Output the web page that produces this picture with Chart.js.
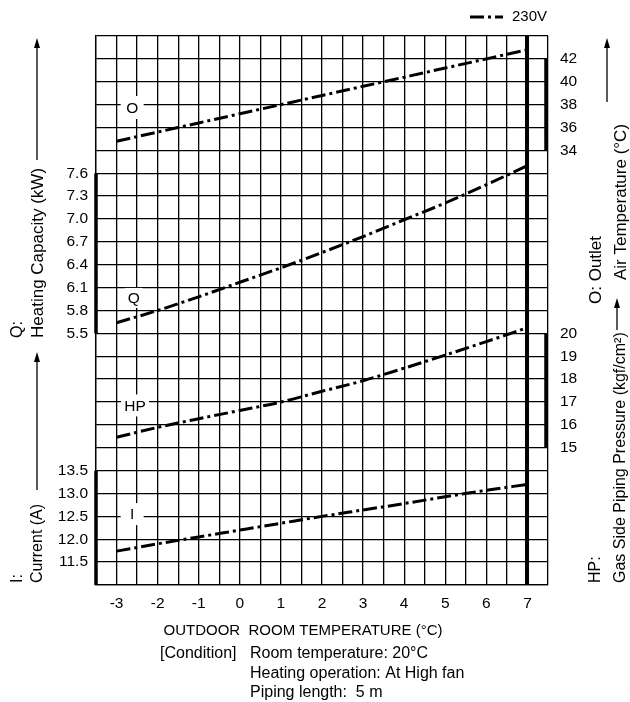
<!DOCTYPE html>
<html>
<head>
<meta charset="utf-8">
<script src="https://cdn.jsdelivr.net/npm/chart.js@4.4.0/dist/chart.umd.min.js"></script>
<style>
  html, body { margin: 0; padding: 0; background: #fff; }
  #wrap { width: 630px; height: 702px; position: relative; }
</style>
</head>
<body>
<div id="wrap"><canvas id="chart" width="630" height="702"></canvas></div>
<script>
// outdoor temperature (deg C)
var xTemps = [-3, -2, -1, 0, 1, 2, 3, 4, 5, 6, 7];
// O: outlet air temperature (deg C)
var outletTemp = [34.8, 35.6, 36.4, 37.2, 38.0, 38.8, 39.6, 40.4, 41.2, 42.0, 42.8];
// Q: heating capacity (kW)
var heatCap = [5.64, 5.80, 5.98, 6.17, 6.36, 6.56, 6.77, 6.99, 7.21, 7.45, 7.70];
// HP: gas side piping pressure (kgf/cm2)
var pressure = [15.46, 15.89, 16.27, 16.63, 17.0, 17.47, 17.93, 18.48, 19.05, 19.64, 20.25];
// I: current (A)
var current = [11.74, 11.90, 12.05, 12.20, 12.35, 12.50, 12.64, 12.78, 12.93, 13.07, 13.20];

// tick labels, each list starts at a grid row (row 0 = bottom line)
var qTicks = ['5.5', '5.8', '6.1', '6.4', '6.7', '7.0', '7.3', '7.6'];   // rows 11..18
var iTicks = ['11.5', '12.0', '12.5', '13.0', '13.5'];                  // rows 1..5
var oTicks = ['34', '36', '38', '40', '42'];                            // rows 19..23
var hpTicks = ['15', '16', '17', '18', '19', '20'];                     // rows 6..11

var FONT = '"Liberation Sans", Arial, Helvetica, sans-serif';
var DASH = [14, 4, 3, 4];

function pts(vals) {
  return xTemps.map(function (x, i) { return { x: x, y: vals[i] }; });
}

function series(label, vals, axis) {
  return {
    label: label,
    data: pts(vals),
    yAxisID: axis,
    borderColor: '#000',
    borderWidth: 3,
    borderDash: DASH,
    pointRadius: 0,
    fill: false,
    cubicInterpolationMode: 'monotone'
  };
}

function leftLabel(v) {
  if (v >= 11 && v <= 18) return qTicks[v - 11];
  if (v >= 1 && v <= 5) return iTicks[v - 1];
  return '';
}
function rightLabel(v) {
  if (v >= 19 && v <= 23) return oTicks[v - 19];
  if (v >= 6 && v <= 11) return hpTicks[v - 6];
  return '';
}

function vText(ctx, txt, x, y, size) {
  // rotated text, reading bottom to top, starting at y
  ctx.save();
  ctx.font = size + 'px ' + FONT;
  ctx.translate(x, y);
  ctx.rotate(-Math.PI / 2);
  ctx.textAlign = 'left';
  ctx.textBaseline = 'middle';
  ctx.fillText(txt, 0, 0);
  ctx.restore();
}
function upArrow(ctx, x, y0, y1) {
  ctx.beginPath();
  ctx.moveTo(x, y0);
  ctx.lineTo(x, y1 + 8);
  ctx.lineWidth = 1.3;
  ctx.stroke();
  ctx.beginPath();
  ctx.moveTo(x, y1);
  ctx.lineTo(x - 3, y1 + 10);
  ctx.lineTo(x + 3, y1 + 10);
  ctx.closePath();
  ctx.fill();
}

var overlay = {
  id: 'overlay',
  beforeDatasetsDraw: function (chart) {
    var ctx = chart.ctx, s = chart.scales;
    var marks = [
      { t: 'O', x: -2.62, ax: 'yO', y: 37.75, w: 23, h: 23 },
      { t: 'Q', x: -2.58, ax: 'yQ', y: 5.965, w: 18, h: 20 },
      { t: 'HP', x: -2.55, ax: 'yHP', y: 16.85, w: 28, h: 22 },
      { t: 'I', x: -2.62, ax: 'yI', y: 12.55, w: 23, h: 22 }
    ];
    ctx.save();
    ctx.font = '15.5px ' + FONT;
    ctx.textAlign = 'center';
    ctx.textBaseline = 'middle';
    marks.forEach(function (m) {
      var px = s.x.getPixelForValue(m.x), py = s[m.ax].getPixelForValue(m.y);
      ctx.fillStyle = '#fff';
      ctx.fillRect(px - m.w / 2, py - m.h / 2, m.w, m.h);
      ctx.fillStyle = '#000';
      ctx.fillText(m.t, px, py + 1);
    });
    ctx.restore();
  },
  afterDraw: function (chart) {
    var ctx = chart.ctx, s = chart.scales, a = chart.chartArea;
    ctx.save();
    ctx.strokeStyle = '#000';
    ctx.fillStyle = '#000';
    // bold range bars on the side axes
    ctx.lineWidth = 3.5;
    ctx.beginPath();
    ctx.moveTo(a.left, s.yQ.getPixelForValue(5.5));
    ctx.lineTo(a.left, s.yQ.getPixelForValue(7.6));
    ctx.moveTo(a.left, s.yI.getPixelForValue(13.5));
    ctx.lineTo(a.left, a.bottom);
    ctx.moveTo(a.right - 2, s.yO.getPixelForValue(34));
    ctx.lineTo(a.right - 2, s.yO.getPixelForValue(42));
    ctx.moveTo(a.right - 2, s.yHP.getPixelForValue(15));
    ctx.lineTo(a.right - 2, s.yHP.getPixelForValue(20));
    ctx.stroke();

    // legend
    ctx.lineWidth = 3;
    ctx.setLineDash(DASH);
    ctx.beginPath();
    ctx.moveTo(470, 17);
    ctx.lineTo(503, 17);
    ctx.stroke();
    ctx.setLineDash([]);
    ctx.font = '15px ' + FONT;
    ctx.textBaseline = 'middle';
    ctx.textAlign = 'left';
    ctx.fillText('230V', 512, 17);

    // axis titles, left
    vText(ctx, 'Q:', 18, 338, 16);
    vText(ctx, 'Heating Capacity (kW)', 38, 338, 17);
    upArrow(ctx, 37, 160, 38);
    vText(ctx, 'I:', 18, 583, 16);
    vText(ctx, 'Current (A)', 38, 583, 16);
    upArrow(ctx, 37, 490, 352);

    // axis titles, right
    vText(ctx, 'O: Outlet', 596, 304, 17);
    vText(ctx, 'Air Temperature (\u00B0C)', 621, 280, 17);
    upArrow(ctx, 607, 102, 38);
    upArrow(ctx, 617, 330, 298);
    vText(ctx, 'HP:', 596, 583, 16);
    vText(ctx, 'Gas Side Piping Pressure (kgf/cm\u00B2)', 621, 583, 16);

    // x title and conditions
    ctx.font = '15px ' + FONT;
    ctx.textAlign = 'center';
    ctx.fillText('OUTDOOR  ROOM TEMPERATURE (\u00B0C)', 303, 631);
    ctx.textAlign = 'left';
    ctx.font = '16px ' + FONT;
    ctx.fillText('[Condition]', 160, 654);
    ctx.fillText('Room temperature: 20\u00B0C', 250, 654);
    ctx.fillText('Heating operation: At High fan', 250, 674);
    ctx.fillText('Piping length:  5 m', 250, 693);
    ctx.restore();
  }
};

var gridW = 1.3;
var tickFont = { family: FONT, size: 15.5 };

new Chart(document.getElementById('chart'), {
  type: 'line',
  data: {
    datasets: [
      series('230V', outletTemp, 'yO'),
      series('Q', heatCap, 'yQ'),
      series('HP', pressure, 'yHP'),
      series('I', current, 'yI')
    ]
  },
  options: {
    responsive: false,
    animation: false,
    devicePixelRatio: 1,
    layout: { padding: { top: 36, left: 0, right: 0, bottom: 0 } },
    plugins: { legend: { display: false }, tooltip: { enabled: false } },
    scales: {
      x: {
        type: 'linear', min: -3.5, max: 7.5,
        afterFit: function (sc) { sc.height = 117; },
        ticks: {
          stepSize: 0.5, autoSkip: false, maxRotation: 0, padding: 9,
          color: '#000', font: tickFont,
          callback: function (v) { return Number.isInteger(v) ? String(v) : ''; }
        },
        grid: {
          color: '#000', drawTicks: false,
          lineWidth: function (c) { return c.tick && c.tick.value === 7 ? 4 : gridW; }
        },
        border: { color: '#000', width: gridW }
      },
      y: {
        position: 'left', min: 0, max: 24,
        afterFit: function (sc) { sc.width = 96; },
        ticks: { stepSize: 1, autoSkip: false, padding: 8, color: '#000', font: tickFont, callback: leftLabel },
        grid: { color: '#000', lineWidth: gridW, drawTicks: false },
        border: { color: '#000', width: gridW }
      },
      y2: {
        position: 'right', min: 0, max: 24,
        afterFit: function (sc) { sc.width = 82; },
        ticks: { stepSize: 1, autoSkip: false, padding: 12, color: '#000', font: tickFont, callback: rightLabel },
        grid: { drawOnChartArea: false, drawTicks: false },
        border: { display: false }
      },
      yQ: { display: false, min: 2.2, max: 9.4 },
      yI: { display: false, min: 11, max: 23 },
      yO: { display: false, min: -4, max: 44 },
      yHP: { display: false, min: 9, max: 33 }
    }
  },
  plugins: [overlay]
});
</script>
</body>
</html>
